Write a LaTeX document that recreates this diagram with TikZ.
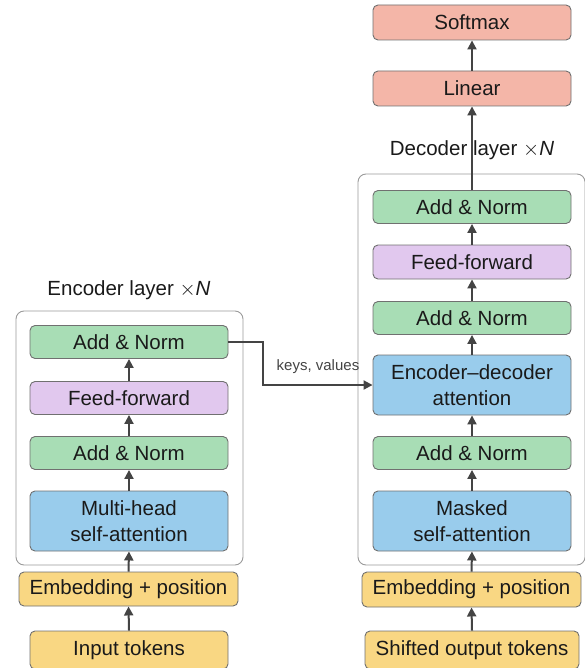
\documentclass[tikz,border=0pt]{standalone}
\usepackage{fontspec}
\setmainfont{Liberation Sans}
\usetikzlibrary{arrows.meta}
\definecolor{cgreen}{HTML}{A8DDB5}
\definecolor{cpurple}{HTML}{E1C8EE}
\definecolor{cblue}{HTML}{99CCEC}
\definecolor{cyellow}{HTML}{F9D783}
\definecolor{cred}{HTML}{F4B6A8}
\definecolor{cborder}{HTML}{707070}
\definecolor{carrow}{HTML}{444444}
\definecolor{ctext}{HTML}{1A1A1A}
\definecolor{ccont}{HTML}{9A9A9A}
\tikzset{
  blk/.style={draw=cborder, line width=0.9pt, rounded corners=5pt, inner sep=0pt,
    align=center, text=ctext, font=\fontsize{20.5}{26}\selectfont,
    minimum width=198pt, minimum height=33pt},
  container/.style={draw=ccont, line width=0.9pt, rounded corners=8pt, inner sep=0pt},
  ttl/.style={text=ctext, font=\fontsize{20.5}{26}\selectfont, inner sep=0pt},
  arr/.style={draw=carrow, line width=2pt, -{Triangle[length=9pt,width=9pt]}},
}
\begin{document}
\begin{tikzpicture}[x=1pt,y=-1pt]
\useasboundingbox (0,0) rectangle (584,668);
% containers
\node[container, minimum width=227pt, minimum height=254pt] (encbox) at (129.5,438) {};
\node[container, minimum width=227pt, minimum height=391pt] (decbox) at (471.5,369.5) {};
\node[ttl] (enctitle) at (129,290) {Encoder layer $\times$\textit{N}};
\node[ttl] (dectitle) at (472,150) {Decoder layer $\times$\textit{N}};
% encoder
\node[blk, fill=cgreen] (e1) at (129,342) {Add \& Norm};
\node[blk, fill=cpurple] (e2) at (129,398) {Feed-forward};
\node[blk, fill=cgreen] (e3) at (129,453) {Add \& Norm};
\node[blk, fill=cblue, minimum height=60pt] (e4) at (129,521) {Multi-head\\self-attention};
\node[blk, fill=cyellow, minimum width=219pt, minimum height=34pt] (e5) at (128.5,589) {Embedding + position};
\node[blk, fill=cyellow, minimum height=38pt] (e6) at (129,650) {Input tokens};
% decoder
\node[blk, fill=cred, minimum height=35pt] (dsoft) at (472,22.5) {Softmax};
\node[blk, fill=cred, minimum height=35pt] (dlin) at (472,88.5) {Linear};
\node[blk, fill=cgreen] (d1) at (472,207) {Add \& Norm};
\node[blk, fill=cpurple, minimum height=34pt] (d2) at (472,262) {Feed-forward};
\node[blk, fill=cgreen] (d3) at (472,318) {Add \& Norm};
\node[blk, fill=cblue, minimum height=60pt] (d4) at (472,385) {Encoder–decoder\\attention};
\node[blk, fill=cgreen] (d5) at (472,453) {Add \& Norm};
\node[blk, fill=cblue, minimum height=60pt] (d6) at (472,521) {Masked\\self-attention};
\node[blk, fill=cyellow, minimum width=219pt, minimum height=35pt] (d7) at (471.5,589.5) {Embedding + position};
\node[blk, fill=cyellow, minimum width=214pt, minimum height=38pt] (d8) at (472,650) {Shifted output tokens};
% encoder arrows
\draw[arr] (e6.north) -- (e5.south);
\draw[arr] (e5.north) -- (e4.south);
\draw[arr] (e4.north) -- (e3.south);
\draw[arr] (e3.north) -- (e2.south);
\draw[arr] (e2.north) -- (e1.south);
% decoder arrows
\draw[arr] (d8.north) -- (d7.south);
\draw[arr] (d7.north) -- (d6.south);
\draw[arr] (d6.north) -- (d5.south);
\draw[arr] (d5.north) -- (d4.south);
\draw[arr] (d4.north) -- (d3.south);
\draw[arr] (d3.north) -- (d2.south);
\draw[arr] (d2.north) -- (d1.south);
\draw[arr] (d1.north) -- (dlin.south);
\draw[arr] (dlin.north) -- (dsoft.south);
% keys, values
\draw[arr] (e1.east) -- ++(35,0) |- (d4.west);
\node[text=carrow, font=\fontsize{15}{18}\selectfont, inner sep=0pt] (kv) at (318,367) {keys, values};
\end{tikzpicture}
\end{document}
